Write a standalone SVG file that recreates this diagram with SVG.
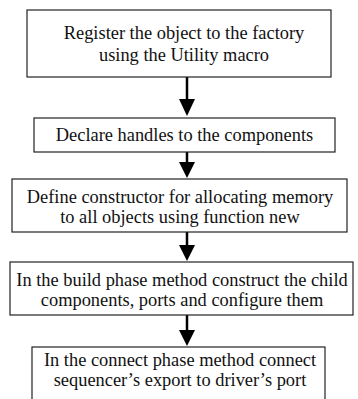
<svg xmlns="http://www.w3.org/2000/svg" width="358" height="399" viewBox="0 0 358 399">
  <style>
    .box { fill: #fff; stroke: #222; stroke-width: 1.2; }
    .lbl { font-family: 'Liberation Serif', 'Times New Roman', serif; font-size: 18.4px; fill: #111; text-anchor: middle; }
    .edge { stroke: #000; stroke-width: 2.5; fill: none; }
    .tip { fill: #000; }
  </style>
  <rect width="358" height="399" fill="#fff"/>

  <!-- downward arrows between consecutive steps -->
  <g id="connectors">
    <line class="edge" x1="187" y1="77" x2="187" y2="100"/>
    <polygon class="tip" points="179,99 195,99 187,116"/>
    <line class="edge" x1="187" y1="152" x2="187" y2="163"/>
    <polygon class="tip" points="179,162 195,162 187,178"/>
    <line class="edge" x1="187" y1="232" x2="187" y2="246"/>
    <polygon class="tip" points="179,245 195,245 187,261"/>
    <line class="edge" x1="187" y1="315" x2="187" y2="331"/>
    <polygon class="tip" points="179,330 195,330 187,346"/>
  </g>

  <g id="register">
    <rect class="box" x="27" y="10" width="304" height="67"/>
    <text class="lbl" x="184" y="39">Register the object to the factory</text>
    <text class="lbl" x="184" y="61">using the Utility macro</text>
  </g>

  <g id="declare">
    <rect class="box" x="34" y="118" width="301" height="34"/>
    <text class="lbl" x="184.5" y="141">Declare handles to the components</text>
  </g>

  <g id="constructor">
    <rect class="box" x="12" y="179" width="335" height="53"/>
    <text class="lbl" x="180" y="203">Define constructor for allocating memory</text>
    <text class="lbl" x="180" y="223">to all objects using function new</text>
  </g>

  <g id="build">
    <rect class="box" x="10" y="262" width="343" height="53"/>
    <text class="lbl" x="182" y="286">In the build phase method construct the child</text>
    <text class="lbl" x="182" y="306">components, ports and configure them</text>
  </g>

  <g id="connect">
    <rect class="box" x="32" y="347" width="293" height="60"/>
    <text class="lbl" x="180" y="366">In the connect phase method connect</text>
    <text class="lbl" x="180" y="386">sequencer’s export to driver’s port</text>
  </g>
</svg>
